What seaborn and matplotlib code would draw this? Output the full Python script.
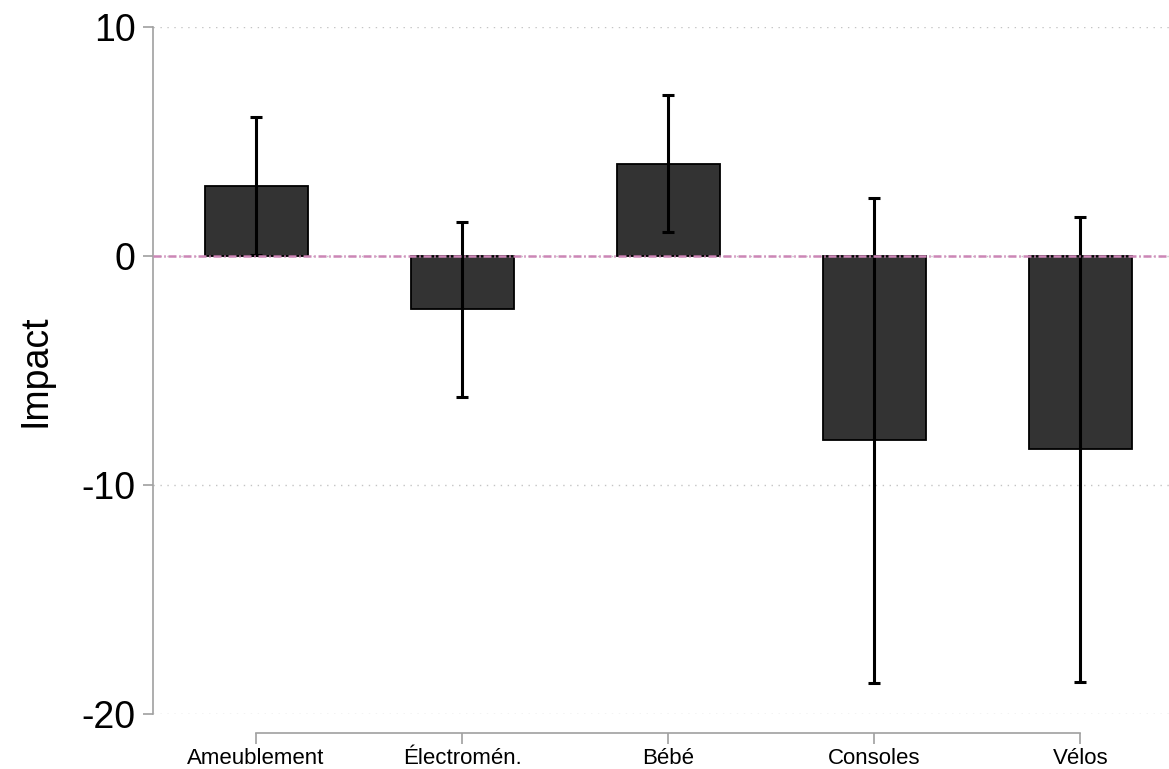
import numpy as np
import pandas as pd
import matplotlib
matplotlib.use("Agg")
import matplotlib.pyplot as plt
import seaborn as sns

# Données
categories = ["Ameublement", "Électromén.", "Bébé", "Consoles", "Vélos"]
impact = [3.06, -2.31, 4.02, -8.03, -8.43]
ci_low = [0.04, -6.14, 1.05, -18.65, -18.6]
ci_high = [6.07, 1.48, 7.03, 2.53, 1.70]
y_ticks = [-20, -10, 0, 10]

df = pd.DataFrame({"categorie": categories, "impact": impact})

sns.set_theme(style="white")
plt.rcParams["font.family"] = ["Liberation Sans", "DejaVu Sans"]
plt.rcParams["text.color"] = "black"
plt.rcParams["axes.labelcolor"] = "black"

fig = plt.figure(figsize=(11.69, 7.69), dpi=100)
ax = fig.add_axes([0.1309, 0.0715, 0.8691, 0.8934])

# grille pointillée
for t in y_ticks:
    ax.axhline(t, color="#c4c4c4", linestyle=(0, (1, 4)), linewidth=1.0, zorder=0)

sns.barplot(data=df, x="categorie", y="impact", color="#333333",
            edgecolor="black", linewidth=1.3, width=0.5, saturation=1,
            errorbar=None, ax=ax, zorder=2)

# intervalles de confiance
x = np.arange(len(categories))
err = [np.array(impact) - np.array(ci_low), np.array(ci_high) - np.array(impact)]
ax.errorbar(x, impact, yerr=err, fmt="none", ecolor="black",
            elinewidth=2.2, capsize=4.3, capthick=2.2, zorder=3)

# ligne zéro
ax.axhline(0, color="#cc86b6", linestyle=(0, (3.2, 1.1, 0.6, 1.1)), linewidth=1.8, zorder=4)

ax.set_xlim(-0.5, 4.43)
ax.set_ylim(-20, 10)
ax.set_yticks(y_ticks)
ax.set_yticklabels([str(t) for t in y_ticks], fontsize=27)
ax.set_xlabel("")
ax.set_ylabel("Impact", fontsize=27, labelpad=20)
ax.tick_params(axis="y", length=7.5, width=1.2, color="#a0a0a0", labelcolor="black", pad=5, left=True)
ax.tick_params(axis="x", length=8, width=1.2, color="#a0a0a0", labelcolor="black", pad=3, labelsize=16, bottom=True)

for s in ["top", "right"]:
    ax.spines[s].set_visible(False)
ax.spines["left"].set_color("#a0a0a0")
ax.spines["left"].set_linewidth(1.2)
ax.spines["bottom"].set_color("#a0a0a0")
ax.spines["bottom"].set_linewidth(1.2)
ax.spines["bottom"].set_position(("outward", 13.7))
ax.spines["bottom"].set_bounds(0, 4)

fig.savefig("out.png", dpi=100)
